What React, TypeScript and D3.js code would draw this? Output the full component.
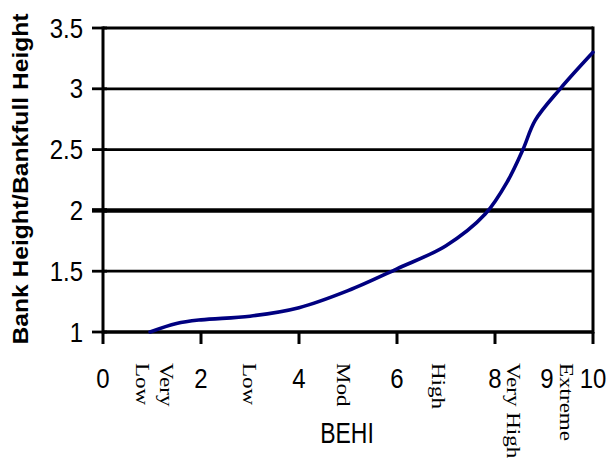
import React from "react";
import * as d3 from "d3";

const behi = [0.96, 1.5, 2, 3, 4, 5, 6, 7, 7.8, 8.27, 8.57, 8.82, 9.33, 10];
const ratio = [1, 1.07, 1.1, 1.13, 1.2, 1.34, 1.52, 1.71, 1.97, 2.25, 2.5, 2.74, 3.0, 3.3];
const yTicks = [1, 1.5, 2, 2.5, 3, 3.5];
const xTicks = [0, 2, 4, 6, 8, 10];
const xTickLabels = [0, 2, 4, 6, 8, 9, 10];
const categoryNames = ["Very", "Low", "Low", "Mod", "High", "Very High", "Extreme"];
const categoryAt = [1.29, 0.8, 2.98, 4.9, 6.84, 8.37, 9.45];

const W = 608, H = 462;
const left = 103, right = 593, top = 28, bottom = 332;

export default function App() {
  const x = d3.scaleLinear().domain([0, 10]).range([left, right]);
  const y = d3.scaleLinear().domain([1, 3.5]).range([bottom, top]);
  const line = d3
    .line<number>()
    .x((_, i) => x(behi[i]))
    .y((d) => y(d))
    .curve(d3.curveCatmullRom.alpha(0.5));
  const sans = "'Liberation Sans', Arial, sans-serif";
  const serif = "'Liberation Serif', 'Times New Roman', serif";
  return (
    <svg width={W} height={H} style={{ position: "absolute", left: 0, top: 0, background: "#fff" }}>
      {yTicks.map((t) => (
        <line key={"g" + t} x1={left} x2={right} y1={y(t)} y2={y(t)} stroke="#000" strokeWidth={t === 2 ? 4.5 : 2.8} />
      ))}
      <line x1={right} x2={right} y1={top - 1.4} y2={bottom + 1.5} stroke="#000" strokeWidth={3} />
      <line x1={left} x2={left} y1={top - 1.4} y2={bottom + 1.5} stroke="#000" strokeWidth={3} />
      {yTicks.map((t) => (
        <line key={"yt" + t} x1={left - 11} x2={left + 4} y1={y(t)} y2={y(t)} stroke="#000" strokeWidth={t === 2 ? 4.5 : 2.8} />
      ))}
      <line x1={left} x2={right} y1={bottom} y2={bottom} stroke="#000" strokeWidth={3} />
      {xTicks.map((t) => (
        <line key={"xt" + t} x1={x(t)} x2={x(t)} y1={bottom} y2={bottom + 12} stroke="#000" strokeWidth={3} />
      ))}
      <path d={line(ratio) || ""} fill="none" stroke="#000080" strokeWidth={3.6} strokeLinejoin="round" strokeLinecap="round" />
      {yTicks.map((t) => (
        <text
          key={"yl" + t}
          transform={`translate(83,${y(t)}) scale(1,1.12)`}
          dy="0.36em"
          textAnchor="end"
          fontFamily={sans}
          fontSize={24}
          fill="#000"
        >
          {t}
        </text>
      ))}
      {xTickLabels.map((t) => (
        <text
          key={"xl" + t}
          transform={`translate(${x(t) + (t === 9 ? 3 : 0)},378) scale(1,1.15)`}
          dy="0.36em"
          textAnchor="middle"
          fontFamily={sans}
          fontSize={24}
          fill="#000"
        >
          {t}
        </text>
      ))}
      {categoryNames.map((c, i) => (
        <text
          key={"c" + i}
          transform={`translate(${x(categoryAt[i])},363) scale(1,1.28) rotate(90)`}
          dy="0.35em"
          textAnchor="start"
          fontFamily={serif}
          fontSize={18}
          fill="#000"
        >
          {c}
        </text>
      ))}
      <text transform="translate(347,433) scale(1,1.25)" dy="0.36em" textAnchor="middle" fontFamily={sans} fontSize={23} fill="#000">
        BEHI
      </text>
      <text
        transform="translate(20,179) scale(1,1.12) rotate(-90)"
        dy="0.36em"
        textAnchor="middle"
        fontFamily={sans}
        fontWeight="bold"
        fontSize={22}
        fill="#000"
      >
        Bank Height/Bankfull Height
      </text>
    </svg>
  );
}
